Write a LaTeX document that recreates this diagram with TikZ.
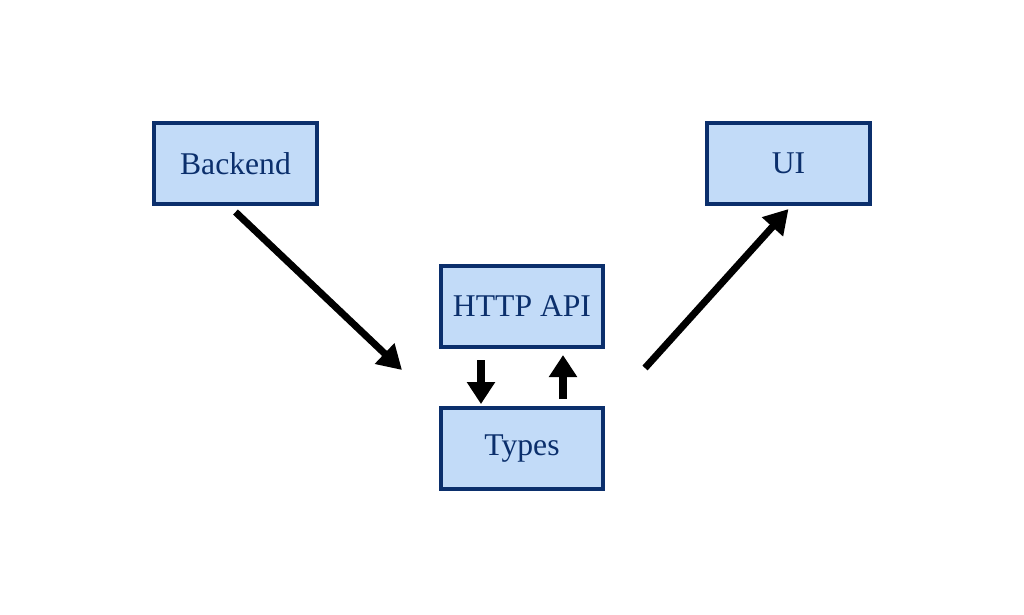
\documentclass[tikz,border=0pt]{standalone}
\usepackage{fontspec}
\setmainfont{Liberation Serif}
\usetikzlibrary{positioning,arrows.meta}
\definecolor{boxfill}{HTML}{C2DBF8}
\definecolor{boxline}{HTML}{0B2F6C}
\tikzstyle{box}=[draw=boxline, fill=boxfill, line width=0.04cm, text=boxline, minimum width=1.62cm, minimum height=0.81cm, font=\fontsize{9}{11}\selectfont]
\tikzstyle{bigarrow}=[line width=0.07cm, -{Triangle[width=0.27cm,length=0.24cm]}]
\tikzstyle{smallarrow}=[line width=0.08cm, -{Triangle[width=0.27cm,length=0.22cm]}]

\begin{document}
\begin{tikzpicture}[x=0.01cm,y=0.01cm]
    \useasboundingbox (0,0) rectangle (1024,614);
    \node[box] (back) at (235.5,450.5) {Backend};
    \node[box] (ui) at (788.5,450.5) {UI};
    \node[box] (api) at (522,307.5) {HTTP API};
    \node[box] (types) [below = 0.57cm of api] {Types};
    \coordinate (in) at (402,244);
    \coordinate (out) at (645,246);
    \draw[bigarrow] ([yshift=-0.06cm]back.south) -- (in);
    \draw[bigarrow] (out) -- ([yshift=-0.03cm]ui.south);
    \draw[smallarrow] ([xshift=-0.41cm,yshift=-0.11cm]api.south) -- ([xshift=-0.41cm,yshift=0.02cm]types.north);
    \draw[smallarrow] ([xshift=0.41cm,yshift=0.07cm]types.north) -- ([xshift=0.41cm,yshift=-0.06cm]api.south);
\end{tikzpicture}
\end{document}
